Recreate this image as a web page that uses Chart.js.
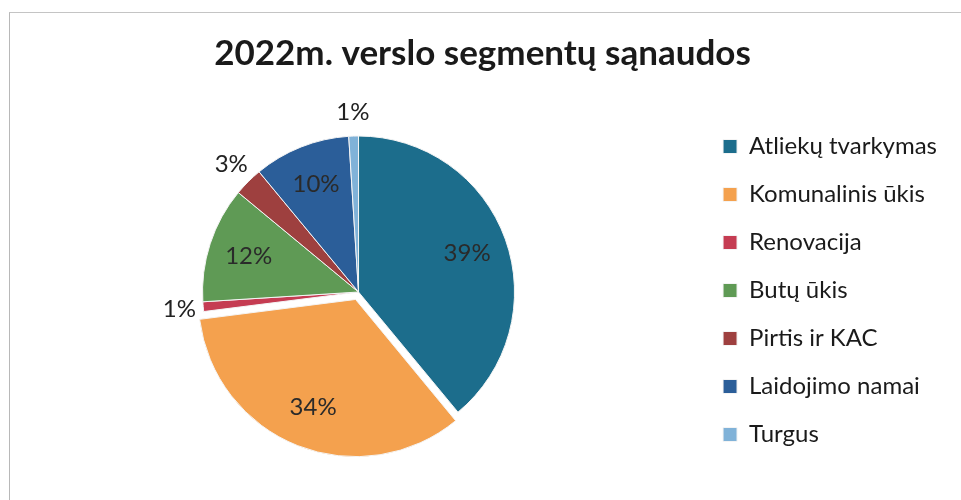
<!DOCTYPE html>
<html>
<head>
<meta charset="utf-8">
<script src="https://cdn.jsdelivr.net/npm/chart.js@4"></script>
<style>
  html, body { margin: 0; padding: 0; background: #fff; }
  #wrap { position: relative; width: 961px; height: 500px; }
  #frame { position: absolute; left: 9px; top: 12px; width: 960px; height: 500px;
           border-left: 1px solid #b8b8b8; border-top: 1px solid #c4c4c4; }
  canvas { position: absolute; left: 0; top: 0; }
</style>
</head>
<body>
<div id="wrap">
  <div id="frame"></div>
  <canvas id="myChart" width="961" height="500"></canvas>
</div>
<script>
//! Duomenys.

const segmentai = [
  'Atliekų tvarkymas',
  'Komunalinis ūkis',
  'Renovacija',
  'Butų ūkis',
  'Pirtis ir KAC',
  'Laidojimo namai',
  'Turgus',
];
const procentai = [39, 34, 1, 12, 3, 10, 1];
const spalvos = ['#1c6d8c', '#f4a14e', '#c53c52', '#5f9a55', '#9e403f', '#2b5e99', '#80b2d8'];
// kurie užrašai dedami už skritulio
const isorinis = [false, false, true, false, true, false, true];
const pavadinimas = '2022m. verslo segmentų sąnaudos';

//! --------------------------------------------------------------

//! Užrašai ant skritulio.

const procentuUzrasai = {
  id: 'procentuUzrasai',
  afterDatasetsDraw(chart) {
    const ctx = chart.ctx;
    const meta = chart.getDatasetMeta(0);
    ctx.save();
    ctx.font = '24px Lato';
    ctx.textAlign = 'center';
    ctx.textBaseline = 'middle';
    meta.data.forEach((arc, i) => {
      const p = arc.getProps(['x', 'y', 'startAngle', 'endAngle', 'outerRadius'], true);
      const mid = (p.startAngle + p.endAngle) / 2;
      const off = (arc.options.offset || 0) / 4;
      const d = isorinis[i] ? p.outerRadius + 24 : p.outerRadius * 0.74 + off;
      const x = p.x + Math.cos(mid) * d;
      const y = p.y + Math.sin(mid) * d;
      ctx.fillStyle = isorinis[i] ? '#222' : '#2a2a2a';
      ctx.fillText(procentai[i] + '%', x, y);
    });
    ctx.restore();
  },
};

//! --------------------------------------------------------------

//! Diagrama.

const data = {
  labels: segmentai,
  datasets: [
    {
      data: procentai,
      backgroundColor: spalvos,
      borderColor: '#f4f4f4',
      borderWidth: 1,
      offset: [0, 32, 0, 0, 0, 0, 0],
    },
  ],
};

const options = {
  responsive: false,
  animation: false,
  radius: 156,
  layout: {
    padding: { left: 18, right: 14, top: 0, bottom: 5 },
  },
  plugins: {
    title: {
      display: true,
      text: pavadinimas,
      color: '#1a1a1a',
      font: { family: 'Lato', size: 35, weight: 'bold' },
      padding: { top: 33, bottom: 14 },
    },
    legend: {
      position: 'right',
      // tuščias pavadinimas tik tam, kad legenda nusileistų žemyn
      title: {
        display: true,
        text: ' ',
        font: { size: 10 },
        padding: { top: 74, bottom: 0 },
      },
      labels: {
        color: '#1a1a1a',
        font: { family: 'Lato', size: 24 },
        boxWidth: 14,
        boxHeight: 14,
        padding: 24,
      },
    },
    tooltip: { enabled: false },
  },
};

const myChart = new Chart(document.getElementById('myChart'), {
  type: 'pie',
  data,
  options,
  plugins: [procentuUzrasai],
});
</script>
</body>
</html>
